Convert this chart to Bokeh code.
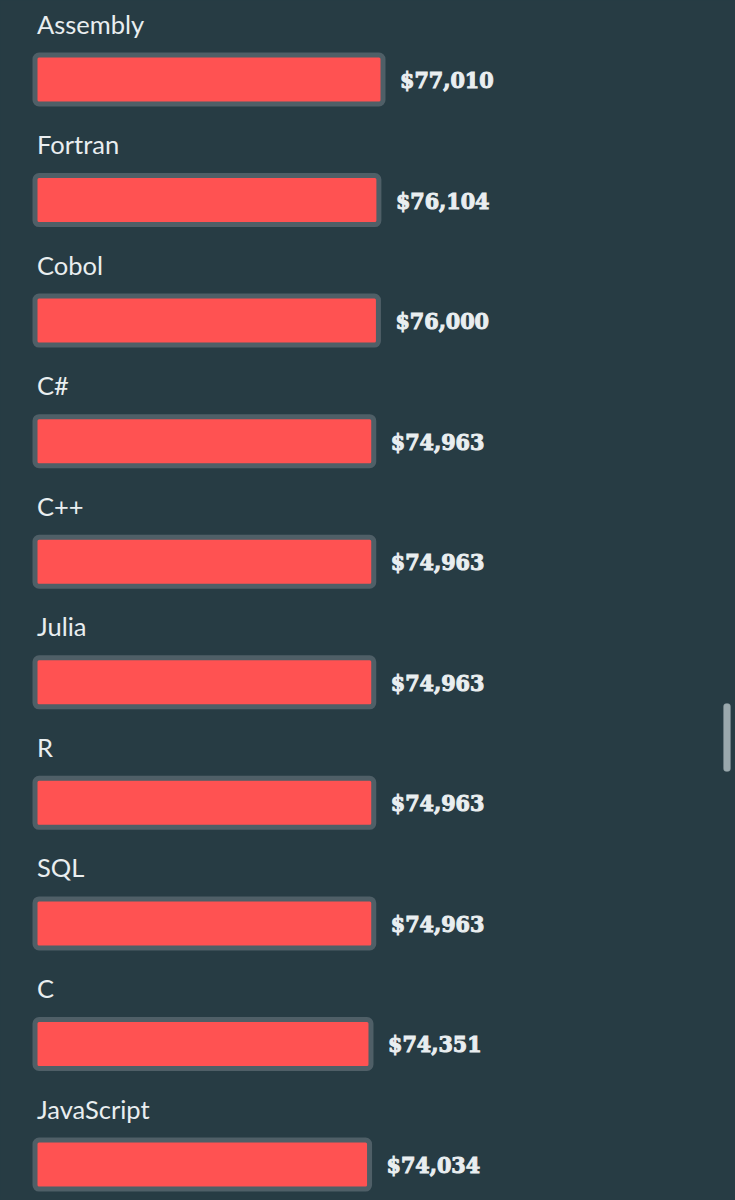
from bokeh.plotting import figure
from bokeh.models import Range1d, ColumnDataSource, BoxAnnotation
from bokeh.core.properties import value
from bokeh.embed import file_html
from bokeh.resources import INLINE

languages = ["Assembly", "Fortran", "Cobol", "C#", "C++", "Julia", "R", "SQL", "C", "JavaScript"]
salaries = [77010, 76104, 76000, 74963, 74963, 74963, 74963, 74963, 74351, 74034]
salary_labels = ["$77,010", "$76,104", "$76,000", "$74,963", "$74,963", "$74,963",
                 "$74,963", "$74,963", "$74,351", "$74,034"]

BG = "#273c44"
BAR = "#ff5252"
BORDER = "#4f5f67"
TEXT = "#e9eef0"

W, H = 735, 1200
row_px = 120.56
first_center = 79.0
px_per_dollar = 348.0 / 77010
zero_px = 34.5

y_top = -first_center / row_px
y_bot = (H - first_center) / row_px
x_start = -zero_px / px_per_dollar
x_end = x_start + W / px_per_dollar

src = ColumnDataSource(dict(
    y=list(range(len(languages))),
    lang=languages,
    sal=salaries,
    lab=salary_labels,
))

p = figure(width=W, height=H, output_backend="svg", toolbar_location=None,
           x_range=Range1d(x_start, x_end), y_range=Range1d(y_bot, y_top),
           min_border=0, background_fill_color=BG, border_fill_color=BG)
p.outline_line_color = None
p.axis.visible = False
p.grid.visible = False

bar_h = 49.0 / row_px
p.hbar(y="y", left=0, right="sal", height=bar_h, source=src,
       fill_color=BAR, line_color=BORDER, line_width=5, border_radius=4)

p.text(x="sal", y="y", text="lab", source=src, x_offset=17, y_offset=0,
       text_font=value("'DejaVu Serif Condensed', 'DejaVu Serif'"), text_font_style="bold",
       text_font_size="23px", text_color=TEXT, text_baseline="middle",
       text_align="left", text_outline_color=TEXT)

p.text(x=0, y="y", text="lang", source=src, x_offset=2, y_offset=-56,
       text_font=value("Lato"), text_font_size="25.5px", text_color=TEXT,
       text_baseline="middle", text_align="left")

# page scrollbar seen in the screenshot
p.add_layout(BoxAnnotation(left=723, right=730, top=H - 703, bottom=H - 771,
                           left_units="screen", right_units="screen",
                           top_units="screen", bottom_units="screen",
                           fill_color="#9aa8ad", fill_alpha=1.0,
                           line_color="#7f8f95", line_width=1, border_radius=3))

html = file_html(p, INLINE)
html = html.replace("<head>", "<head><style>html,body{background:%s;}</style>" % BG, 1)
open("out.html", "w").write(html)
